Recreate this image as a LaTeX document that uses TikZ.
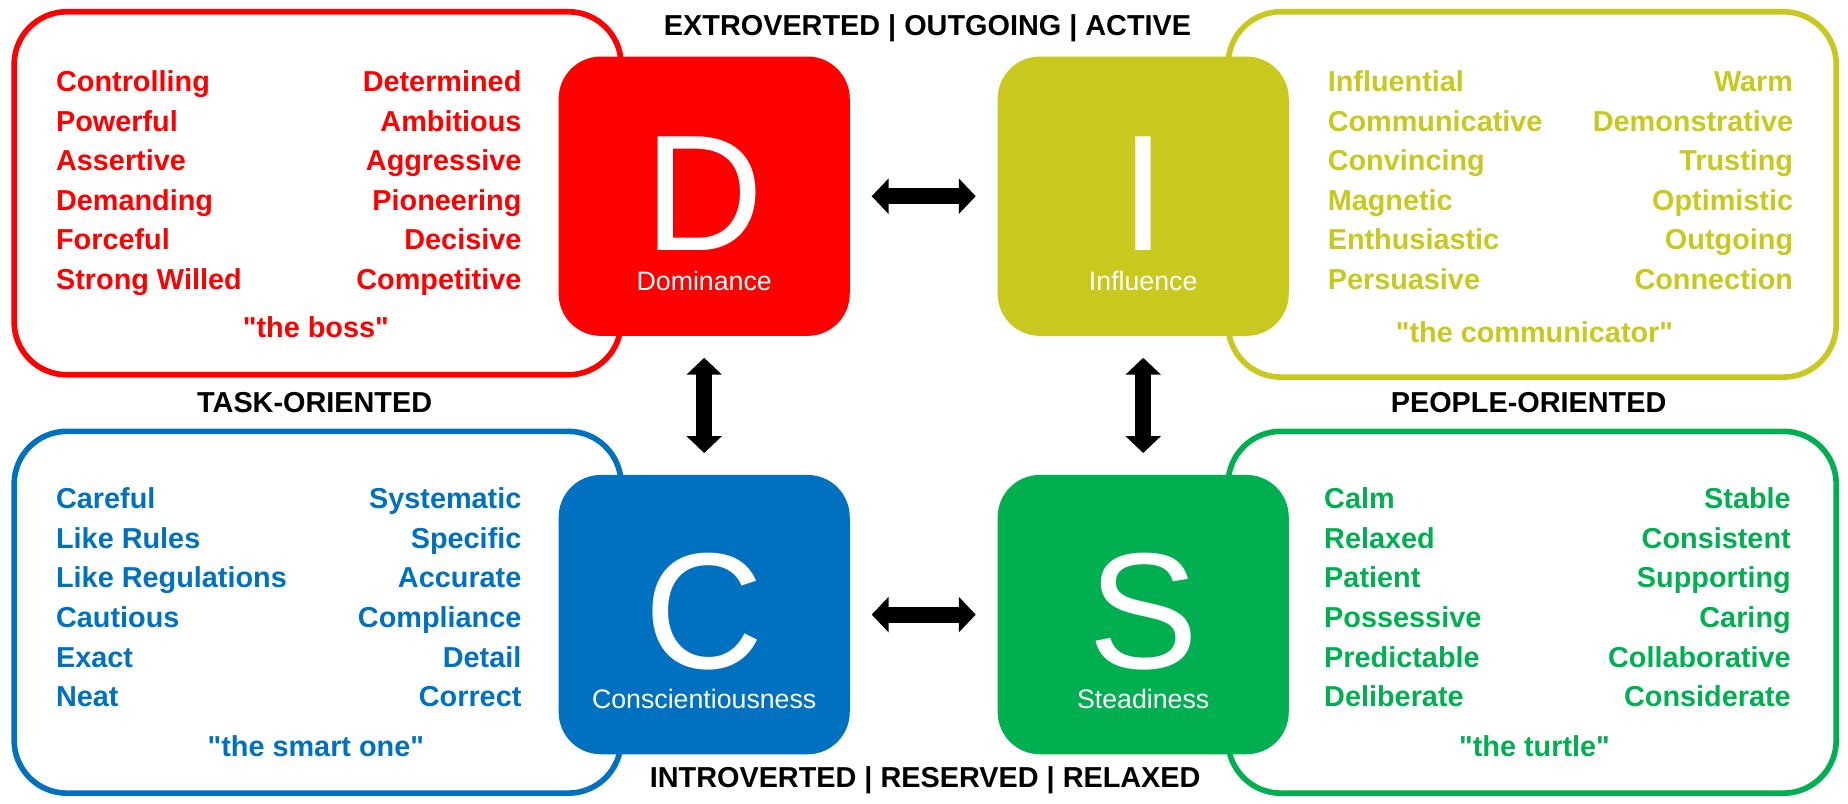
\documentclass[tikz,border=0pt]{standalone}
\usepackage{fontspec}
\setmainfont{Liberation Sans}
\newfontfamily\qfont{Liberation Sans}
\usetikzlibrary{arrows.meta}
\definecolor{dred}{HTML}{FF0000}
\definecolor{iolive}{HTML}{C8C81E}
\definecolor{cblue}{HTML}{0070C0}
\definecolor{sgreen}{HTML}{00B050}
\newcommand{\qq}{{\qfont\bfseries"}}
\begin{document}
\begin{tikzpicture}[x=0.01178cm,y=-0.01178cm,
    outer/.style={line width=1.6pt,rounded corners=15pt},
    square/.style={minimum width=247*0.01178cm,minimum height=237*0.01178cm,rounded corners=12pt,inner sep=0pt},
    letter/.style={text=white,font=\fontsize{47}{47}\selectfont,inner sep=0pt},
    trait/.style={font=\bfseries\fontsize{8.2}{9}\selectfont,inner sep=0pt},
    header/.style={font=\bfseries\fontsize{8.2}{9}\selectfont,inner sep=0pt},
    link/.style={line width=4.6pt,{Triangle[length=4.8pt,width=9.8pt]}-{Triangle[length=4.8pt,width=9.8pt]},shorten <=18*0.01178cm,shorten >=18*0.01178cm}]
    \useasboundingbox (0,0) rectangle (1568,682);

    % rahmen
    \draw [outer,dred]   (12,10)   rectangle (527,318);
    \draw [outer,iolive] (1042,10) rectangle (1558,320);
    \draw [outer,cblue]  (12,366)  rectangle (527,673);
    \draw [outer,sgreen] (1042,366) rectangle (1558,673);

    % quadrate
    \node [square,fill=dred]   (dsq) at (597.5,166.5) {};
    \node [square,fill=iolive] (isq) at (970,166.5) {};
    \node [square,fill=cblue]  (csq) at (597.5,521.5) {};
    \node [square,fill=sgreen] (ssq) at (970,521.5) {};
    \foreach \sq/\ch/\name in {dsq/D/Dominance, isq/I/Influence, csq/C/Conscientiousness, ssq/S/Steadiness}{
        \node [letter,anchor=base] (\sq-ch) at ([yshift=-46*0.01178cm]\sq.center) {\ch};
        \node [text=white,font=\fontsize{7.6}{9}\selectfont,anchor=base] (\sq-name) at ([yshift=-80*0.01178cm]\sq.center) {\name};
    }

    % pfeile
    \draw [link] (dsq) -- (isq);
    \draw [link] (csq) -- (ssq);
    \draw [link] (dsq) -- (csq);
    \draw [link] (isq) -- (ssq);

    % achsen
    \node [header] (top)    at (787,24)   {EXTROVERTED | OUTGOING | ACTIVE};
    \node [header] (bottom) at (785,662)  {INTROVERTED | RESERVED | RELAXED};
    \node [header] (task)   at (267,342)  {TASK-ORIENTED};
    \node [header] (people) at (1297,342) {PEOPLE-ORIENTED};

    % eigenschaften D
    \foreach \w [count=\i] in {Controlling,Powerful,Assertive,Demanding,Forceful,Strong Willed}
        \node [trait,dred,anchor=base west] (dl\i) at (47,44+33.6*\i) {\w};
    \foreach \w [count=\i] in {Determined,Ambitious,Aggressive,Pioneering,Decisive,Competitive}
        \node [trait,dred,anchor=base east] (dr\i) at (443,44+33.6*\i) {\w};
    \node [trait,dred,anchor=base] (dq) at (268,286) {\qq the boss\qq};

    % eigenschaften I
    \foreach \w [count=\i] in {Influential,Communicative,Convincing,Magnetic,Enthusiastic,Persuasive}
        \node [trait,iolive,anchor=base west] (il\i) at (1126,44+33.6*\i) {\w};
    \foreach \w [count=\i] in {Warm,Demonstrative,Trusting,Optimistic,Outgoing,Connection}
        \node [trait,iolive,anchor=base east] (ir\i) at (1522,44+33.6*\i) {\w};
    \node [trait,iolive,anchor=base] (iq) at (1302,291) {\qq the communicator\qq};

    % eigenschaften C
    \foreach \w [count=\i] in {Careful,Like Rules,Like Regulations,Cautious,Exact,Neat}
        \node [trait,cblue,anchor=base west] (cl\i) at (47,398+33.6*\i) {\w};
    \foreach \w [count=\i] in {Systematic,Specific,Accurate,Compliance,Detail,Correct}
        \node [trait,cblue,anchor=base east] (cr\i) at (443,398+33.6*\i) {\w};
    \node [trait,cblue,anchor=base] (cq) at (268,642) {\qq the smart one\qq};

    % eigenschaften S
    \foreach \w [count=\i] in {Calm,Relaxed,Patient,Possessive,Predictable,Deliberate}
        \node [trait,sgreen,anchor=base west] (sl\i) at (1123,398+33.6*\i) {\w};
    \foreach \w [count=\i] in {Stable,Consistent,Supporting,Caring,Collaborative,Considerate}
        \node [trait,sgreen,anchor=base east] (sr\i) at (1520,398+33.6*\i) {\w};
    \node [trait,sgreen,anchor=base] (sq) at (1302,642) {\qq the turtle\qq};
\end{tikzpicture}
\end{document}
